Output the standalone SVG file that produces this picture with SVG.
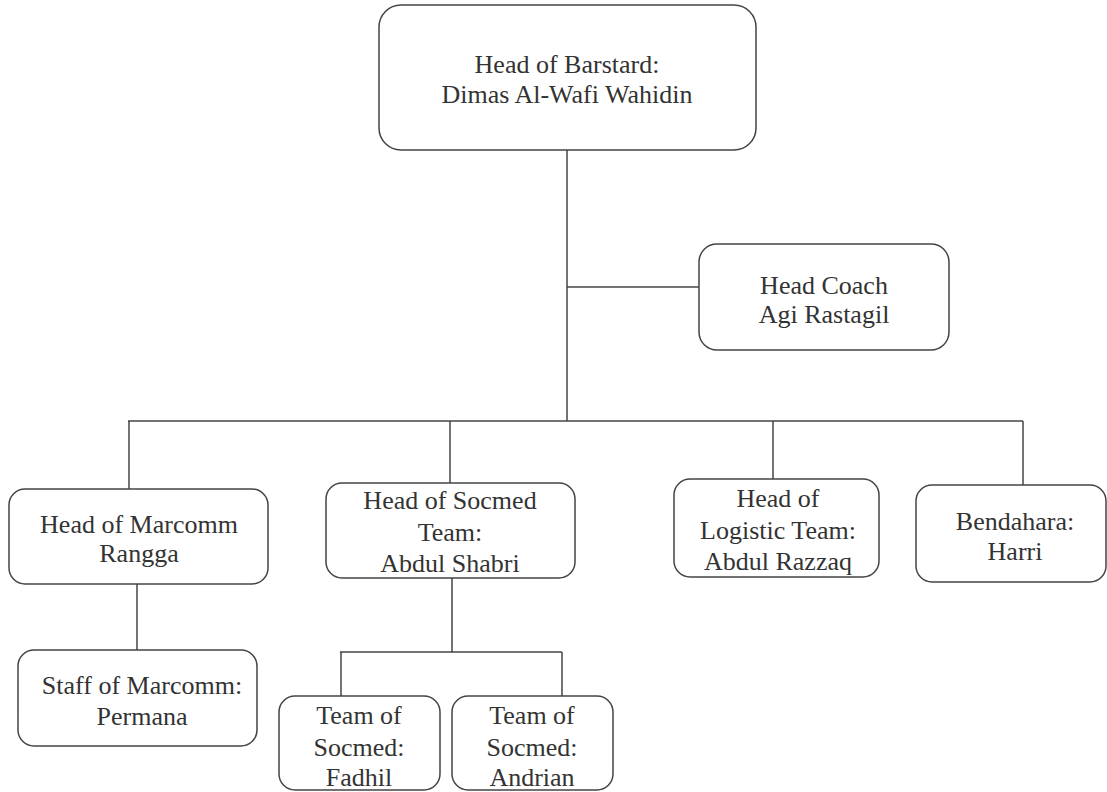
<svg xmlns="http://www.w3.org/2000/svg" width="1107" height="792" viewBox="0 0 1107 792">
<style>
.box{fill:#fff;stroke:#444;stroke-width:1.5}
.t{font-family:"Liberation Serif","Times New Roman",serif;font-size:26px;fill:#333;text-anchor:middle}
.c{fill:none;stroke:#444;stroke-width:1.5}
</style>
<rect width="1107" height="792" fill="#fff"/>
<g id="connectors">
<path class="c" d="M567 150V421"/>
<path class="c" d="M567 287H699"/>
<path class="c" d="M128 421H1023"/>
<path class="c" d="M129 421V489"/>
<path class="c" d="M450 421V483"/>
<path class="c" d="M773 421V479"/>
<path class="c" d="M1023 421V502"/>
<path class="c" d="M137 584V650"/>
<path class="c" d="M452 578V652"/>
<path class="c" d="M340 652H562"/>
<path class="c" d="M341 652V702"/>
<path class="c" d="M562 652V702"/>
</g>
<g id="head">
<rect class="box" x="379" y="5" width="377" height="145" rx="22"/>
<text class="t" x="567" y="73">Head of Barstard:</text>
<text class="t" x="567" y="103">Dimas Al-Wafi Wahidin</text>
</g>
<g id="coach">
<rect class="box" x="699" y="244" width="250" height="106" rx="18"/>
<text class="t" x="824" y="294">Head Coach</text>
<text class="t" x="824" y="323">Agi Rastagil</text>
</g>
<g id="marcomm">
<rect class="box" x="9" y="489" width="259" height="95" rx="16"/>
<text class="t" x="139" y="533">Head of Marcomm</text>
<text class="t" x="139" y="562">Rangga</text>
</g>
<g id="socmed">
<rect class="box" x="326" y="483" width="249" height="95" rx="16"/>
<text class="t" x="450" y="509">Head of Socmed</text>
<text class="t" x="450" y="541">Team:</text>
<text class="t" x="450" y="572">Abdul Shabri</text>
</g>
<g id="logistic">
<rect class="box" x="674" y="479" width="205" height="98" rx="16"/>
<text class="t" x="778" y="507">Head of</text>
<text class="t" x="778" y="539">Logistic Team:</text>
<text class="t" x="778" y="570">Abdul Razzaq</text>
</g>
<g id="bendahara">
<rect class="box" x="916" y="485" width="190" height="97" rx="16"/>
<text class="t" x="1015" y="530">Bendahara:</text>
<text class="t" x="1015" y="560">Harri</text>
</g>
<g id="staff">
<rect class="box" x="18" y="650" width="239" height="96" rx="16"/>
<text class="t" x="142" y="694">Staff of Marcomm:</text>
<text class="t" x="142" y="725">Permana</text>
</g>
<g id="fadhil">
<rect class="box" x="279" y="696" width="161" height="94" rx="16"/>
<text class="t" x="359" y="724">Team of</text>
<text class="t" x="359" y="756">Socmed:</text>
<text class="t" x="359" y="786">Fadhil</text>
</g>
<g id="andrian">
<rect class="box" x="452" y="696" width="161" height="94" rx="16"/>
<text class="t" x="532" y="724">Team of</text>
<text class="t" x="532" y="756">Socmed:</text>
<text class="t" x="532" y="786">Andrian</text>
</g>
</svg>
